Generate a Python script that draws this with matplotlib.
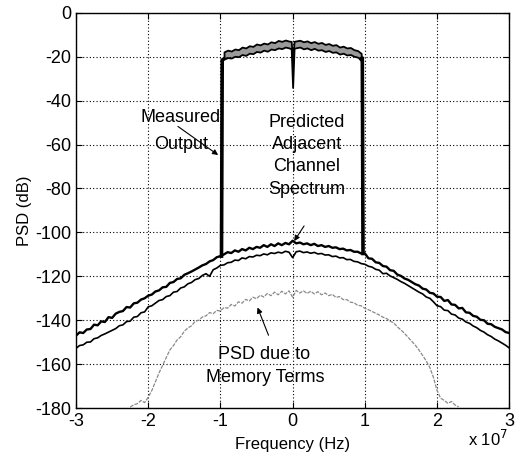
import numpy as np
import matplotlib
matplotlib.use('Agg')
import matplotlib.pyplot as plt

plt.rcParams['font.family'] = ['Liberation Sans', 'DejaVu Sans']
plt.rcParams['axes.unicode_minus'] = False

# frequency grid, units of 1e7 Hz
f_full = np.linspace(-3, 3, 121)

# upper curve (measured output, out of band), -3..3
upper_db = [
    -147.0, -145.5, -145.8, -144.2, -144.0, -142.0, -142.3, -140.5, -140.8, -138.6,
    -138.9, -137.0, -136.2, -135.8, -134.0, -134.2, -132.3, -132.0, -130.6, -130.0,
    -128.8, -128.3, -126.9, -126.4, -125.0, -124.8, -123.0, -122.6, -121.2, -120.9,
    -119.3, -118.6, -117.8, -116.9, -116.0, -115.0, -114.4, -113.2, -112.6, -111.3,
    -110.8,
    -110.0, -109.0, -109.4, -108.2, -108.8, -107.6, -108.2, -107.0, -107.6, -106.6,
    -107.0, -105.8, -106.6, -105.4, -106.2, -105.0, -105.8, -104.8, -105.4, -103.8,
    -105.0, -104.6, -105.4, -105.0, -105.8, -105.2, -106.2, -105.8, -106.6, -106.2,
    -107.0, -106.8, -107.6, -107.4, -108.2, -108.0, -108.8, -108.8, -109.6,
    -109.5, -111.8, -112.0, -113.6, -113.9, -115.3, -115.6, -117.2, -117.5, -119.2,
    -119.8, -121.0, -121.6, -122.6, -123.6, -124.2, -125.6, -126.0, -127.5, -127.8,
    -129.3, -129.4, -131.2, -130.8, -132.8, -133.0, -134.6, -134.4, -136.4, -136.6,
    -138.0, -138.4, -139.8, -140.0, -141.6, -141.8, -143.0, -143.6, -144.2, -145.4,
    -145.8,
]

# lower curve (predicted adjacent channel spectrum), -3..3
lower_db = [
    -152.8, -151.5, -151.2, -150.0, -149.9, -148.4, -148.0, -146.9, -146.2, -145.4,
    -144.6, -143.8, -142.5, -142.1, -140.6, -140.4, -138.6, -138.3, -136.6, -136.2,
    -133.9, -133.4, -132.2, -131.0, -130.6, -129.2, -128.8, -127.2, -126.9, -125.3,
    -124.8, -123.4, -122.8, -121.5, -121.0, -119.6, -118.8, -120.0, -117.0, -116.2,
    -115.0, -114.8, -113.8, -113.6, -112.6, -112.8, -111.6, -112.0, -111.0, -111.2,
    -110.4, -110.6, -109.8, -110.2, -109.3, -109.6, -109.0, -109.4, -108.6, -109.0,
    -111.5, -108.8, -108.5, -109.2, -108.9, -109.5, -109.1, -109.8, -109.6, -110.3,
    -110.2, -111.0, -110.8, -111.6, -111.5, -112.4, -112.3, -113.2, -113.4, -114.2,
    -114.5, -115.4, -115.8, -116.8, -117.2, -118.8, -118.6, -119.8, -120.6, -121.4,
    -122.4, -123.2, -124.2, -125.2, -126.2, -127.2, -128.0, -129.4, -130.0, -131.6,
    -133.4, -133.8, -135.4, -135.6, -137.2, -137.6, -139.0, -139.5, -140.8, -141.4,
    -142.6, -143.4, -144.6, -145.4, -146.6, -147.4, -148.6, -149.4, -150.4, -151.4,
    -152.6,
]

# in-band measured output (top and bottom edge of the band)
band_f = [-0.95, -0.90, -0.85, -0.80, -0.75, -0.70, -0.65, -0.60, -0.55, -0.50,
          -0.45, -0.40, -0.35, -0.30, -0.25, -0.20, -0.15, -0.10, -0.05, -0.02,
          0.0, 0.02, 0.05, 0.10, 0.15, 0.20, 0.25, 0.30, 0.35, 0.40, 0.45, 0.50,
          0.55, 0.60, 0.65, 0.70, 0.75, 0.80, 0.85, 0.90, 0.95]
band_hi = [-17.8, -17.0, -17.4, -16.5, -16.8, -15.6, -16.0, -15.0, -15.3, -14.2,
           -14.6, -13.8, -14.2, -13.2, -13.6, -12.6, -13.0, -12.4, -12.9, -13.0,
           -22.0, -13.0, -12.8, -12.5, -13.2, -12.8, -13.6, -13.1, -13.9, -13.5,
           -14.4, -14.0, -14.8, -14.5, -15.6, -15.2, -16.0, -15.8, -16.8, -17.2,
           -18.5]
band_lo = [-21.0, -20.4, -20.6, -19.8, -20.0, -19.0, -19.4, -18.4, -18.6, -17.6,
           -17.9, -17.0, -17.5, -16.5, -16.8, -16.0, -16.3, -15.6, -16.0, -16.4,
           -34.0, -16.2, -15.9, -15.6, -16.4, -16.0, -16.8, -16.2, -17.0, -16.8,
           -17.6, -17.2, -18.0, -17.8, -18.8, -18.4, -19.2, -19.0, -19.8, -20.2,
           -21.2]

# vertical band edges of the measured output
edge_left_f = [-0.985, -0.975, -0.95]
edge_left_db = [-110.8, -21.5, -21.0]
edge_right_f = [0.95, 0.965, 0.975]
edge_right_db = [-21.2, -20.6, -109.6]

# PSD due to memory terms
mem_f = np.linspace(-2.25, 2.30, 92)
mem_db = [
    -179.5, -178.5, -178.0, -176.5, -177.5, -175.0, -172.0, -168.0, -164.0, -160.5,
    -157.0, -153.5, -151.5, -149.0, -147.5, -145.0, -143.5, -142.5, -140.5, -140.0,
    -138.5, -138.0, -136.5, -137.0, -135.5, -135.8, -134.2, -134.5, -132.8, -133.5,
    -131.6, -132.2, -130.5, -131.2, -129.5, -130.2, -128.6, -129.4, -127.8, -128.8,
    -127.2, -128.4, -126.8, -128.0, -126.6, -129.5, -126.4, -127.6, -126.6, -127.8,
    -126.8, -128.0, -127.0, -128.4, -127.6, -128.8, -128.2, -129.6, -129.2, -130.6,
    -130.6, -131.8, -132.0, -133.2, -133.4, -134.6, -135.2, -136.0, -136.8, -137.6,
    -138.6, -139.2, -140.4, -141.2, -143.0, -144.4, -146.0, -147.8, -149.6, -151.4,
    -153.6, -156.0, -158.5, -161.5, -166.0, -172.0, -175.5, -176.5, -177.8, -177.0,
    -178.6, -179.4,
]

fig = plt.figure(figsize=(5.17, 4.57), dpi=100)
ax = fig.add_axes([0.147, 0.107, 0.838, 0.865])

ax.plot(mem_f, mem_db, color='#8a8a8a', lw=0.9, linestyle=(0, (3, 1)))
ax.plot(f_full, lower_db, color='black', lw=1.2)
ax.plot(f_full, upper_db, color='black', lw=1.7)
ax.plot(edge_left_f, edge_left_db, color='black', lw=2.6)
ax.plot(edge_right_f, edge_right_db, color='black', lw=2.6)
ax.fill_between(band_f, band_lo, band_hi, facecolor='#9a9a9a', edgecolor='black', lw=1.3)

ax.set_xlim(-3, 3)
ax.set_ylim(-180, 0)
ax.set_xticks([-3, -2, -1, 0, 1, 2, 3])
ax.set_yticks(range(-180, 1, 20))
ax.grid(True, color='black', linestyle=(0, (1, 2)), lw=0.8)
ax.tick_params(direction='in', top=True, right=True, labelsize=13, length=4)
for s in ax.spines.values():
    s.set_linewidth(1.0)

ax.set_xlabel('Frequency (Hz)', fontsize=12, labelpad=5)
ax.set_ylabel('PSD (dB)', fontsize=12, labelpad=2)
fig.text(0.905, 0.025, r'x 10$^7$', fontsize=12)

tkw = dict(fontsize=13, ha='center', va='center')
ax.text(-1.55, -47.5, 'Measured', **tkw)
ax.text(-1.55, -60, 'Output', **tkw)
ax.annotate('', xy=(-1.0, -65.5), xytext=(-1.62, -51),
            arrowprops=dict(arrowstyle='-|>', color='black', lw=0.8, mutation_scale=8))

ax.text(0.2, -50, 'Predicted', **tkw)
ax.text(0.2, -60, 'Adjacent', **tkw)
ax.text(0.2, -70, 'Channel', **tkw)
ax.text(0.2, -80.5, 'Spectrum', **tkw)
ax.annotate('', xy=(0.0, -105), xytext=(0.18, -96),
            arrowprops=dict(arrowstyle='-|>', color='black', lw=0.8, mutation_scale=8))

ax.text(-0.4, -155.5, 'PSD due to', **tkw)
ax.text(-0.38, -166, 'Memory Terms', **tkw)
ax.annotate('', xy=(-0.5, -133), xytext=(-0.32, -148),
            arrowprops=dict(arrowstyle='-|>', color='black', lw=0.8, mutation_scale=8))

fig.savefig('out.png', dpi=100)
